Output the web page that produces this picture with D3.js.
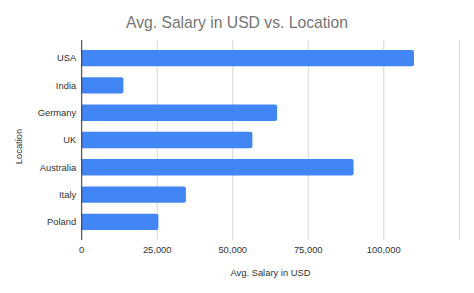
<!DOCTYPE html>
<html>
<head>
<meta charset="utf-8">
<script src="https://cdn.jsdelivr.net/npm/d3@7"></script>
<style>
  body { margin: 0; background: #fff; }
  text { font-family: "Liberation Sans", Arial, sans-serif; }
</style>
</head>
<body>
<svg width="474" height="293"></svg>
<script>
const locations = ['USA', 'India', 'Germany', 'UK', 'Australia', 'Italy', 'Poland'];
const salaries = [110000, 13800, 64700, 56500, 90000, 34500, 25400];
const xTicks = [0, 25000, 50000, 75000, 100000, 125000];

const data = locations.map((d, i) => ({ loc: d, val: salaries[i] }));

const svg = d3.select('svg');
const width = +svg.attr('width');
const height = +svg.attr('height');

const margin = { top: 40, right: 14.7, bottom: 53, left: 81.7 };

const x = d3.scaleLinear()
  .domain([0, 125000])
  .range([margin.left, width - margin.right]);

const y = d3.scaleBand()
  .domain(locations)
  .range([margin.top, height - margin.bottom])
  .paddingInner(0.4)
  .paddingOuter(0.365);

svg.append('rect').attr('width', width).attr('height', height).attr('fill', '#fff');

// gridlines
svg.append('g')
  .selectAll('line')
  .data(xTicks.slice(1))
  .join('line')
  .attr('x1', d => x(d)).attr('x2', d => x(d))
  .attr('y1', margin.top).attr('y2', height - margin.bottom)
  .style('stroke', '#d6d6d6')
  .style('stroke-width', 1);

// bars (rounded right end)
svg.append('g')
  .selectAll('path')
  .data(data)
  .join('path')
  .attr('d', d => {
    const x0 = x(0), x1 = x(d.val), y0 = y(d.loc), h = y.bandwidth(), r = 2;
    return `M${x0},${y0}H${x1 - r}Q${x1},${y0} ${x1},${y0 + r}V${y0 + h - r}Q${x1},${y0 + h} ${x1 - r},${y0 + h}H${x0}Z`;
  })
  .style('fill', '#4285f4');

// baseline axis
svg.append('line')
  .attr('x1', x(0)).attr('x2', x(0))
  .attr('y1', margin.top).attr('y2', height - margin.bottom)
  .style('stroke', '#333')
  .style('stroke-width', 1);

// y labels
svg.append('g')
  .selectAll('text')
  .data(locations)
  .join('text')
  .attr('x', x(0) - 5.5)
  .attr('y', d => y(d) + y.bandwidth() / 2)
  .attr('dy', '0.35em')
  .attr('text-anchor', 'end')
  .style('font-size', '9.4px')
  .style('fill', '#333')
  .text(d => d);

// x labels
svg.append('g')
  .selectAll('text')
  .data(xTicks.slice(0, -1))
  .join('text')
  .attr('x', d => x(d))
  .attr('y', 249.5)
  .attr('dy', '0.35em')
  .attr('text-anchor', 'middle')
  .style('font-size', '9.4px')
  .style('fill', '#333')
  .text(d => d3.format(',')(d));

// titles
svg.append('text')
  .attr('x', 237)
  .attr('y', 28)
  .attr('text-anchor', 'middle')
  .style('font-size', '15.7px')
  .style('fill', '#757575')
  .text('Avg. Salary in USD vs. Location');

svg.append('text')
  .attr('x', (x(0) + x(125000)) / 2)
  .attr('y', 273)
  .attr('dy', '0.35em')
  .attr('text-anchor', 'middle')
  .style('font-size', '9.4px')
  .style('fill', '#333')
  .text('Avg. Salary in USD');

svg.append('text')
  .attr('transform', 'translate(19,146.5) rotate(-90)')
  .attr('dy', '0.35em')
  .attr('text-anchor', 'middle')
  .style('font-size', '9.4px')
  .style('fill', '#333')
  .text('Location');
</script>
</body>
</html>
